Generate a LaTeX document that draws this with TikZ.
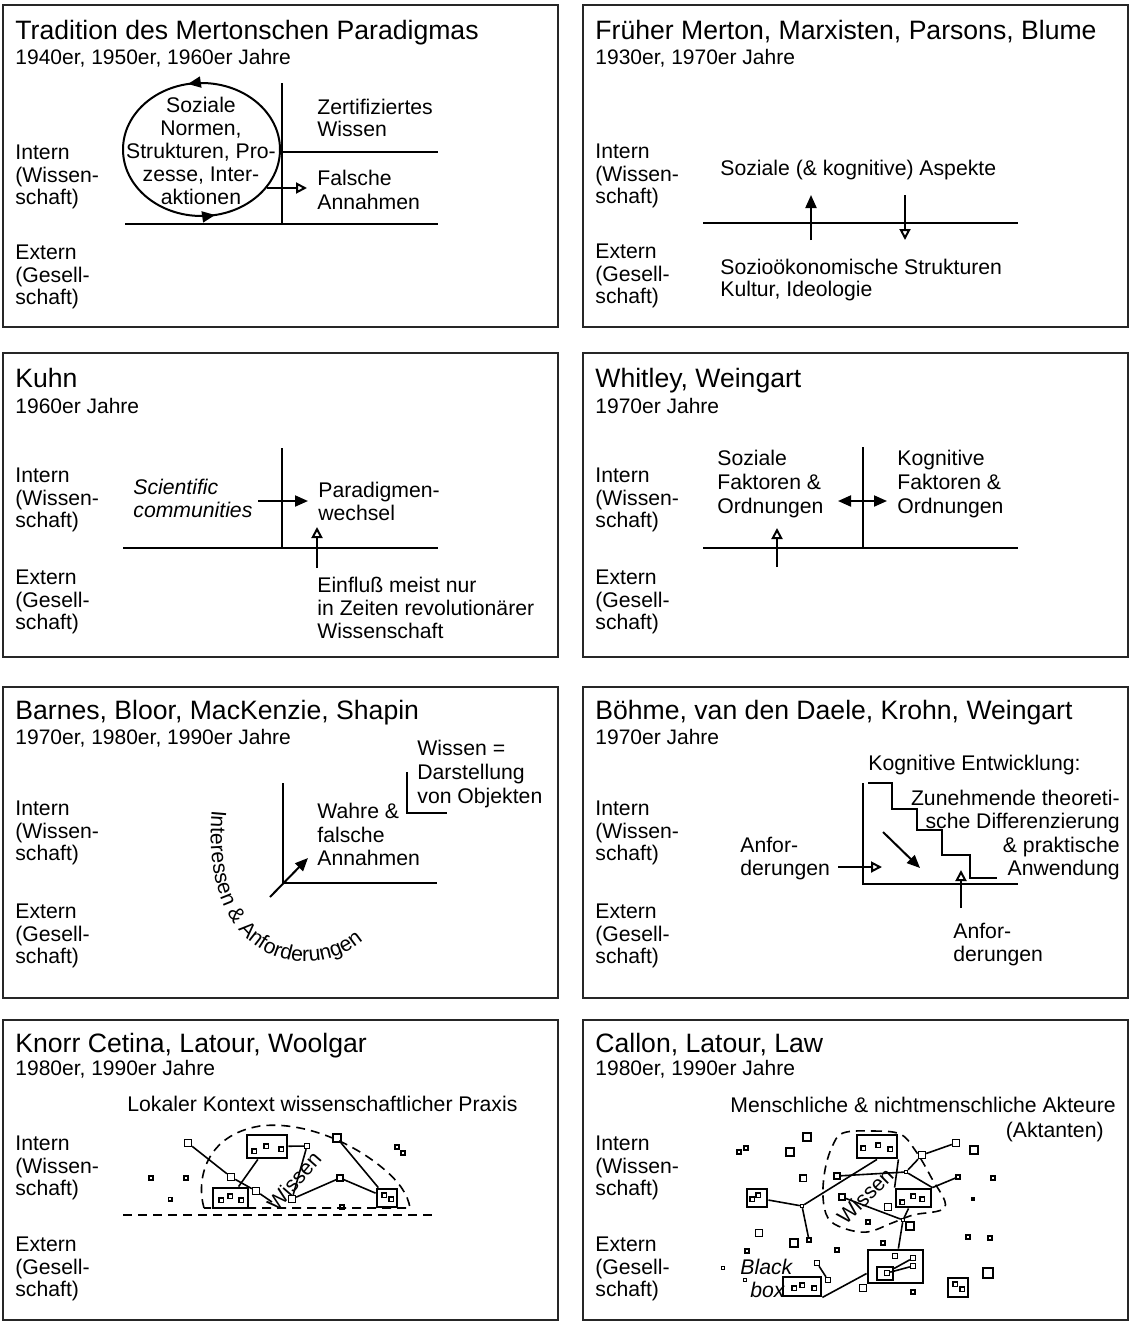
\documentclass[tikz,border=0pt]{standalone}
\usepackage{fontspec}
\setmainfont{Liberation Sans}
\usetikzlibrary{arrows.meta,decorations.markings,decorations.text}

\newcommand\bodyfont{\fontsize{10.6}{11.25}\selectfont}
\newcommand\titlefont{\fontsize{13.3}{16}\selectfont}
\newcommand\yearfont{\fontsize{10.5}{12}\selectfont}
% block of lines: alignment, line distance, lines (baseline = first line)
\newcommand\mlines[3]{{\fontsize{10.6}{#2}\selectfont\begin{tabular}[t]{@{}#1@{}}#3\end{tabular}}}

\tikzset{
  panel/.style={draw=black!85, line width=1.2pt},
  ln/.style={line width=1pt},
  cn/.style={line width=0.8pt},
  fa/.style={ln, -{Triangle[length=6.5pt,width=5.5pt]}},
  oa/.style={ln, -{Triangle[open,length=5.5pt,width=5.5pt]}},
  lbl/.style={inner sep=0pt, anchor=base west, font=\bodyfont},
  sq/.style={draw, line width=0.7pt, inner sep=0pt, minimum size=#1},
  sq/.default=3pt,
  bx/.style={draw, line width=1.4pt, inner sep=0pt},
  dsh/.style={dash pattern=on 4.5pt off 3pt, line width=0.8pt},
}

% panel heading: prefix, x, title baseline, years baseline, title, years
\newcommand\head[6]{%
  \node[inner sep=0pt, anchor=base west, font=\titlefont] (#1t) at (#2,#3) {#5};
  \node[inner sep=0pt, anchor=base west, font=\yearfont] (#1y) at (#2,#4) {#6};
}
% side labels: prefix, x, baseline Intern, baseline Extern
\newcommand\sides[4]{%
  \node[lbl] (#1in) at (#2,#3) {\mlines{l}{11.25pt}{Intern\\(Wissen-\\schaft)}};
  \node[lbl] (#1ex) at (#2,#4) {\mlines{l}{11.25pt}{Extern\\(Gesell-\\schaft)}};
}

\begin{document}
\begin{tikzpicture}[x=0.5pt,y=-0.5pt]
\fill[white] (0,0) rectangle (1131,1323);
\useasboundingbox (0,0) rectangle (1131,1323);

% ---------------- Merton tradition
\draw[panel] (3,5) rectangle (558,327);
\head{a}{15}{39.5}{64.5}{Tradition des Mertonschen Paradigmas}{1940er, 1950er, 1960er Jahre}
\sides{a}{15}{159.5}{259.5}
\draw[ln] (282,83) -- (282,224);
\draw[ln] (280,151.7) -- (438,151.7);
\draw[ln] (125,224) -- (438,224);
\draw[ln, postaction={decorate}, decoration={markings,
    mark=at position 0.22 with {\arrowreversed{Triangle[length=6.5pt,width=5.5pt]}},
    mark=at position 0.72 with {\arrowreversed{Triangle[length=6.5pt,width=5.5pt]}}}]
  (201.5,149.5) ellipse [x radius=78.5, y radius=66.5];
\node[lbl, anchor=base] (aso) at (201,112.5) {\mlines{c}{11.5pt}{Soziale\\Normen,\\Strukturen, Pro-\\zesse, Inter-\\aktionen}};
\node[lbl] (aze) at (317,114.5) {\mlines{l}{11pt}{Zertifiziertes\\Wissen}};
\node[lbl] (afa) at (317,185.5) {\mlines{l}{11.75pt}{Falsche\\Annahmen}};
\coordinate (a1) at (267,188);
\coordinate (a2) at (307,188);
\draw[oa] (a1) -- (a2);

% ---------------- early Merton, Marxists
\draw[panel] (583,5) rectangle (1128,327);
\head{b}{595}{39.5}{64.5}{Früher Merton, Marxisten, Parsons, Blume}{1930er, 1970er Jahre}
\sides{b}{595}{158.5}{258.5}
\draw[ln] (703,223) -- (1018,223);
\node[lbl] (bso) at (720,175.5) {Soziale (\& kognitive) Aspekte};
\node[lbl] (bse) at (720,274.5) {\mlines{l}{11pt}{Sozioökonomische Strukturen\\Kultur, Ideologie}};
\coordinate (b1) at (811,240);
\coordinate (b2) at (811,195);
\draw[fa] (b1) -- (b2);
\coordinate (b3) at (905,195);
\coordinate (b4) at (905,240);
\draw[oa] (b3) -- (b4);

% ---------------- Kuhn
\draw[panel] (3,353) rectangle (558,657);
\head{c}{15}{387.5}{413.5}{Kuhn}{1960er Jahre}
\sides{c}{15}{482.5}{584.5}
\draw[ln] (282,448) -- (282,548);
\draw[ln] (123,548) -- (438,548);
\node[lbl, font=\bodyfont\itshape] (csc) at (133,494.5) {\mlines{l}{11.5pt}{Scientific\\communities}};
\node[lbl] (cpa) at (318,497.5) {\mlines{l}{11.25pt}{Paradigmen-\\wechsel}};
\node[lbl] (cei) at (317,592.5) {\mlines{l}{11.4pt}{Einfluß meist nur\\in Zeiten revolutionärer\\Wissenschaft}};
\coordinate (c1) at (258,501);
\coordinate (c2) at (308,501);
\draw[fa] (c1) -- (c2);
\coordinate (c3) at (317,568);
\coordinate (c4) at (317,527);
\draw[oa] (c3) -- (c4);

% ---------------- Whitley, Weingart
\draw[panel] (583,353) rectangle (1128,657);
\head{d}{595}{387.5}{413.5}{Whitley, Weingart}{1970er Jahre}
\sides{d}{595}{482.5}{584.5}
\draw[ln] (863,447) -- (863,548);
\draw[ln] (703,548) -- (1018,548);
\node[lbl] (dso) at (717,465) {\mlines{l}{12pt}{Soziale\\Faktoren \&\\Ordnungen}};
\node[lbl] (dko) at (897,465) {\mlines{l}{12pt}{Kognitive\\Faktoren \&\\Ordnungen}};
\coordinate (d1) at (838,501);
\coordinate (d2) at (887,501);
\draw[ln, {Triangle[length=6.5pt,width=5.5pt]}-{Triangle[length=6.5pt,width=5.5pt]}] (d1) -- (d2);
\coordinate (d3) at (777,567);
\coordinate (d4) at (777,528);
\draw[oa] (d3) -- (d4);

% ---------------- Barnes, Bloor
\draw[panel] (3,687) rectangle (558,998);
\head{e}{15}{719.5}{744.5}{Barnes, Bloor, MacKenzie, Shapin}{1970er, 1980er, 1990er Jahre}
\sides{e}{15}{815.5}{918.5}
\draw[ln] (283,783) -- (283,883) -- (437,883);
\draw[ln] (407,772) -- (407,813) -- (447,813);
\node[lbl] (ewi) at (417,755.5) {\mlines{l}{12pt}{Wissen =\\Darstellung\\von Objekten}};
\node[lbl] (ewa) at (317,818.5) {\mlines{l}{11.75pt}{Wahre \&\\falsche\\Annahmen}};
\coordinate (e1) at (270,897);
\coordinate (e2) at (308,858);
\draw[fa] (e1) -- (e2);
\path[decorate, decoration={text along path,
    text={|\bodyfont|Interessen {\&} Anforderungen}}]
  (212,810) .. controls (206,875) and (222,932) .. (270,954)
  .. controls (305,970) and (350,962) .. (378,925);

% ---------------- Böhme et al.
\draw[panel] (583,687) rectangle (1128,998);
\head{f}{595}{719.5}{744.5}{Böhme, van den Daele, Krohn, Weingart}{1970er Jahre}
\sides{f}{595}{815.5}{918.5}
\draw[ln] (863,783) -- (863,884) -- (1018,884);
\draw[ln] (868,783) -- (892,783) -- (892,809) -- (917,809) -- (917,830) -- (942,830)
  -- (942,855) -- (970,855) -- (970,878) -- (997,878);
\node[lbl] (fke) at (868,770.5) {Kognitive Entwicklung:};
\node[lbl, anchor=base east] (fzu) at (1120,805.5) {\mlines{r}{11.65pt}{Zunehmende theoreti-\\sche Differenzierung\\\& praktische\\Anwendung}};
\node[lbl] (fan) at (740,852.5) {\mlines{l}{11.5pt}{Anfor-\\derungen}};
\node[lbl] (fun) at (953,938) {\mlines{l}{11.5pt}{Anfor-\\derungen}};
\coordinate (f1) at (838,867);
\coordinate (f2) at (882,867);
\draw[oa] (f1) -- (f2);
\coordinate (f3) at (883,832);
\coordinate (f4) at (920,868);
\draw[fa] (f3) -- (f4);
\coordinate (f5) at (961,908);
\coordinate (f6) at (961,870);
\draw[oa] (f5) -- (f6);

% ---------------- Knorr Cetina, Latour, Woolgar
\draw[panel] (3,1020) rectangle (558,1320);
\head{g}{15}{1052.5}{1075.5}{Knorr Cetina, Latour, Woolgar}{1980er, 1990er Jahre}
\sides{g}{15}{1150.5}{1251.5}
\node[lbl] (glo) at (127,1111) {Lokaler Kontext wissenschaftlicher Praxis};
\draw[dsh] (123,1215) -- (438,1215);
\draw[dsh] (204,1208) .. controls (196,1180) and (205,1135) .. (260,1126)
  .. controls (300,1121) and (350,1140) .. (385,1170)
  .. controls (400,1183) and (408,1195) .. (410,1208) -- cycle;
\node[bx, minimum width=20pt, minimum height=11.5pt] (gA) at (267,1146.5) {};
\node[sq=2.2pt] (gA1) at (254,1151) {};
\node[sq=2.2pt] (gA2) at (266,1146) {};
\node[sq=2.2pt] (gA3) at (281,1149) {};
\node[bx, minimum width=17.5pt, minimum height=10pt] (gB) at (230.5,1198) {};
\node[sq=2.2pt] (gB1) at (221,1200) {};
\node[sq=2.2pt] (gB2) at (230,1196) {};
\node[sq=2.2pt] (gB3) at (241,1200) {};
\node[bx, minimum width=10pt, minimum height=9pt] (gC) at (387,1198) {};
\node[sq=2.2pt] (gC1) at (384,1195) {};
\node[sq=2.2pt] (gC2) at (391,1199) {};
\node[sq=3.5pt] (g1) at (188,1143) {};
\node[sq=3.5pt] (g2) at (231,1177) {};
\node[sq=3.5pt] (g3) at (256,1191) {};
\node[sq=2.5pt] (g4) at (307,1146) {};
\node[sq=4pt] (g5) at (337,1138) {};
\node[sq=3.5pt] (g6) at (292,1199) {};
\node[sq=3pt] (g7) at (340,1178) {};
\node[sq=2pt] (g8) at (342,1207) {};
\node[sq=2pt] (g9) at (397,1147) {};
\node[sq=2pt] (g10) at (403,1153) {};
\node[sq=2pt] (g11) at (151,1178) {};
\node[sq=2pt] (g12) at (186,1178) {};
\node[sq=1.8pt] (g13) at (170,1199) {};
\coordinate (gx) at (272,1202);
\draw[cn] (g1) -- (g2);
\draw[cn] (g2) -- (g3);
\draw[cn] (g3) -- (gx);
\draw[cn] (gA) -- (gB);
\draw[cn] (gA) -- (g4);
\draw[cn] (g4) -- (g6);
\draw[cn] (g6) -- (g7);
\draw[cn] (g7) -- (gC);
\draw[cn] (g5) -- (gC);
\node[font=\bodyfont, rotate=49, inner sep=0pt] (gwi) at (294,1181) {Wissen};

% ---------------- Callon, Latour, Law
\draw[panel] (583,1020) rectangle (1128,1320);
\head{h}{595}{1052.5}{1075.5}{Callon, Latour, Law}{1980er, 1990er Jahre}
\sides{h}{595}{1150.5}{1251.5}
\node[lbl] (hme) at (730,1112.5) {Menschliche \& nichtmenschliche Akteure};
\node[lbl, anchor=base east] (hak) at (1104,1137.5) {(Aktanten)};
\draw[dsh] plot[smooth cycle, tension=0.6] coordinates {(843,1133) (873,1131) (900,1134)
  (915,1150) (931,1177) (945,1207) (913,1215) (892,1223) (867,1232) (843,1228)
  (828,1218) (823,1197) (825,1170) (832,1147)};
\node[bx, minimum width=20pt, minimum height=11.5pt] (hA) at (877,1146.5) {};
\node[sq=2.2pt] (hA1) at (863,1148) {};
\node[sq=2.2pt] (hA2) at (878,1145) {};
\node[sq=2.2pt] (hA3) at (890,1149) {};
\node[bx, minimum width=17.5pt, minimum height=9pt] (hB) at (913.5,1198) {};
\node[sq=2.2pt] (hB1) at (902,1202) {};
\node[sq=2.2pt] (hB2) at (913,1196) {};
\node[sq=2.2pt] (hB3) at (922,1199) {};
\node[bx, minimum width=10pt, minimum height=9pt] (hC) at (757,1198) {};
\node[sq=2.2pt] (hC1) at (752,1199) {};
\node[sq=2.2pt] (hC2) at (758,1195) {};
\node[bx, minimum width=27.5pt, minimum height=16.5pt] (hD) at (895.5,1266.5) {};
\node[draw, line width=1pt, inner sep=0pt, minimum width=8pt, minimum height=6.5pt] (hDi) at (885,1273.5) {};
\node[sq=2.5pt] (hD1) at (887,1273) {};
\node[sq=2.5pt] (hD2) at (895,1256) {};
\node[sq=2.5pt] (hD3) at (913,1258) {};
\node[sq=2.5pt] (hD4) at (913,1266) {};
\draw[cn] (hDi) -- (hD3);
\draw[cn] (hD1) -- (hD4);
\node[bx, minimum width=19pt, minimum height=9.5pt] (hE) at (802,1286.5) {};
\node[sq=2.2pt] (hE1) at (794,1288) {};
\node[sq=2.2pt] (hE2) at (802,1285) {};
\node[sq=2.2pt] (hE3) at (814,1288) {};
\node[bx, minimum width=10pt, minimum height=9.5pt] (hF) at (958,1287.5) {};
\node[sq=2.2pt] (hF1) at (955,1284) {};
\node[sq=2.2pt] (hF2) at (962,1289) {};
\node[sq=2pt] (h1) at (739,1152) {};
\node[sq=2pt] (h2) at (746,1148) {};
\node[sq=4pt] (h3) at (790,1152) {};
\node[sq=4pt] (h4) at (807,1137) {};
\node[sq=3.2pt] (h5) at (803,1178) {};
\node[sq=3pt] (h6) at (837,1176) {};
\node[sq=3.5pt] (h7) at (922,1155) {};
\node[sq=3.5pt] (h8) at (956,1143) {};
\node[sq=4pt] (h9) at (974,1150) {};
\node[sq=2pt] (h10) at (958,1177) {};
\node[sq=2pt] (h11) at (993,1178) {};
\node[sq=1.6pt, fill] (h12) at (973,1199) {};
\node[sq=3pt] (h13) at (842,1197) {};
\node[sq=3.5pt] (h14) at (888,1207) {};
\node[sq=2pt] (h15) at (868,1222) {};
\node[sq=4pt] (h16) at (910,1226) {};
\node[sq=3.5pt] (h17) at (759,1233) {};
\node[sq=4pt] (h18) at (794,1243) {};
\node[sq=2pt] (h19) at (809,1240) {};
\node[sq=2pt] (h20) at (747,1251) {};
\node[sq=2pt] (h21) at (837,1250) {};
\node[sq=2pt] (h22) at (883,1243) {};
\node[sq=2pt] (h23) at (968,1237) {};
\node[sq=2pt] (h24) at (990,1238) {};
\node[sq=5pt] (h25) at (988,1273) {};
\node[sq=1.6pt] (h26) at (723,1268) {};
\node[sq=1.6pt] (h27) at (745,1280) {};
\node[sq=2.5pt] (h28) at (817,1263) {};
\node[sq=2.5pt] (h29) at (828,1280) {};
\node[sq=3.5pt] (h30) at (863,1288) {};
\node[sq=2pt] (h31) at (913,1292) {};
\node[sq=1.5pt] (hj1) at (802,1206) {};
\node[sq=1.5pt] (hj2) at (906,1172) {};
\node[sq=1.5pt] (hj3) at (903,1220) {};
\draw[cn] (hC) -- (hj1);
\draw[cn] (hj1) -- (h19);
\draw[cn] (hj1) -- (hA.south);
\draw[cn] (h6) -- (hj2);
\draw[cn] (hj2) -- (h7);
\draw[cn] (h7) -- (h8);
\draw[cn] (hA.south east) -- (hB.north west);
\draw[cn] (hj2) -- (hB.north east);
\draw[cn] (hB.north east) -- (h10);
\draw[cn] (h13) -- (hj3);
\draw[cn] (hB) -- (hj3);
\draw[cn] (hj3) -- (hD);
\draw[cn] (hE.south east) -- (hD.west |- hDi);
\draw[cn] (h28) -- (h29);
\node[font=\bodyfont, rotate=45, inner sep=0pt] (hwi) at (865,1196) {Wissen};
\node[lbl, font=\bodyfont\itshape] (hbl) at (740,1274) {Black};
\node[lbl, font=\bodyfont\itshape] (hbo) at (750,1297) {box};
\end{tikzpicture}
\end{document}
